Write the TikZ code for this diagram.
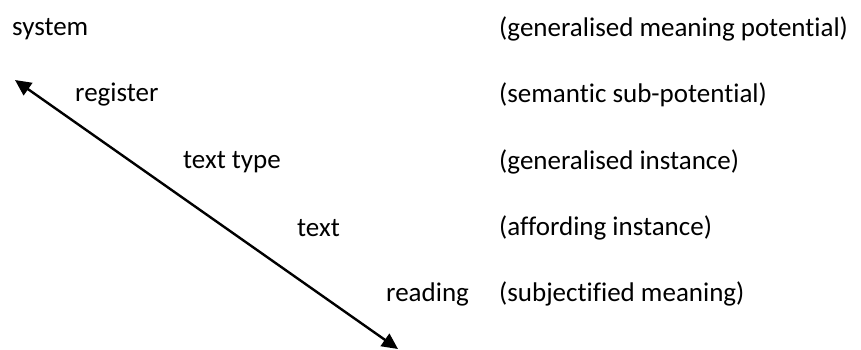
\documentclass[tikz,border=0pt]{standalone}
\usepackage{fontspec}
\setmainfont{Carlito}[RawFeature=-liga]
\usetikzlibrary{arrows.meta}
\begin{document}
\begin{tikzpicture}[x=1pt,y=-1pt,
  lbl/.style={anchor=west,inner sep=0pt,font=\fontsize{27}{32}\selectfont},
  cline/.style={line width=2.4pt,{Triangle[length=16pt,width=15pt]}-{Triangle[length=16pt,width=15pt]}}]
\useasboundingbox (0,0) rectangle (861,349);
% left column: strata
\node[lbl] (sys) at (12,29) {system};
\node[lbl] (reg) at (75,95) {register};
\node[lbl] (tt) at (183,162) {text type};
\node[lbl] (txt) at (297,228) {text};
\node[lbl] (rd) at (386,294) {reading};
% right column: glosses
\node[lbl] (g1) at (499,29) {(generalised meaning potential)};
\node[lbl] (g2) at (499,95) {(semantic sub-potential)};
\node[lbl] (g3) at (499,162) {(generalised instance)};
\node[lbl] (g4) at (499,228) {(affording instance)};
\node[lbl] (g5) at (499,294) {(subjectified meaning)};
% cline of instantiation
\coordinate (top) at (15,80);
\coordinate (bot) at (398,349);
\draw[cline] (top) -- (bot);
\end{tikzpicture}
\end{document}
